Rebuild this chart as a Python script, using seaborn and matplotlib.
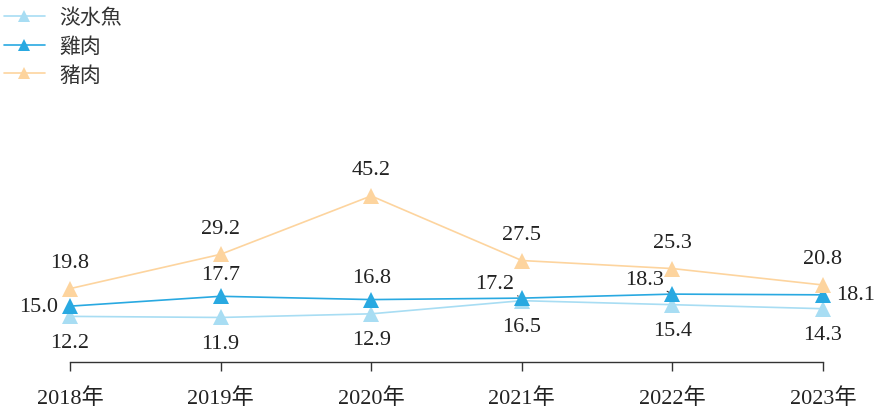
import matplotlib
matplotlib.use("Agg")
import matplotlib.pyplot as plt
from matplotlib.lines import Line2D
import seaborn as sns
import pandas as pd

years = ["2018年", "2019年", "2020年", "2021年", "2022年", "2023年"]
series_names = ["淡水魚", "雞肉", "豬肉"]
fish = [12.2, 11.9, 12.9, 16.5, 15.4, 14.3]
chicken = [15.0, 17.7, 16.8, 17.2, 18.3, 18.1]
pork = [19.8, 29.2, 45.2, 27.5, 25.3, 20.8]
colors = ["#A8DDF3", "#29A9E1", "#FDD49E"]

sns.set_style("white")
plt.rcParams["font.family"] = ["Liberation Serif", "Noto Sans CJK TC"]

rows = []
for name, vals in zip(series_names, [fish, chicken, pork]):
    for i, v in enumerate(vals):
        rows.append({"x": i, "value": v, "series": name})
df = pd.DataFrame(rows)

fig = plt.figure(figsize=(8.75, 4.1), dpi=100)
ax = fig.add_axes([70 / 875, 1 - 363 / 410, 753 / 875, 183.6 / 410])

sns.lineplot(data=df, x="x", y="value", hue="series", hue_order=series_names,
             palette=colors, marker="^", markersize=11, markeredgewidth=0,
             linewidth=1.2, ax=ax, legend=False)
for ln in ax.get_lines():
    ln.set_clip_on(False)

ax.set_xlim(0, 5)
ax.set_ylim(-0.3, 50)
ax.set_xlabel("")
ax.set_ylabel("")
ax.set_yticks([])
ax.set_xticks(range(len(years)))
ax.set_xticklabels(years, fontsize=16, color="#222222")
for s in ["top", "right", "left"]:
    ax.spines[s].set_visible(False)
ax.spines["bottom"].set_color("#333333")
ax.spines["bottom"].set_linewidth(1.0)
ax.tick_params(axis="x", bottom=True, direction="out", length=6.5, width=1.0,
               color="#333333", pad=12)
ax.patch.set_alpha(0)

tc = "#222222"
fs = 16
def lab(x, y, txt, dx, dy, leader=False):
    kw = dict(textcoords="offset pixels", ha="center", va="center",
              fontsize=fs, color=tc, annotation_clip=False)
    if leader:
        kw["arrowprops"] = dict(arrowstyle="-", color="#333333", lw=0.8,
                                shrinkA=9, shrinkB=3)
    ax.annotate(txt, (x, y), xytext=(dx, dy), **kw)

for i, v in enumerate(pork):
    lab(i, v, f"{v:.1f}", 0, 26)
for i, v in enumerate(fish):
    lab(i, v, f"{v:.1f}", 0, -26)
chick_off = [(-31, 0, False), (0, 22, False), (0, 22, False), (-27, 15, True), (-28, 15, True), (33, 0, False)]
for i, v in enumerate(chicken):
    dx, dy, ld = chick_off[i]
    lab(i, v, f"{v:.1f}", dx, dy, ld)

handles = [Line2D([0], [0], color=c, lw=1.2, marker="^", markersize=8, markeredgewidth=0)
           for c in colors]
leg = fig.legend(handles, series_names, loc="upper left", bbox_to_anchor=(0.0, 0.992),
                 frameon=False, prop={"family": ["Noto Sans CJK TC"], "size": 15},
                 handlelength=1.95, handletextpad=0.7, labelspacing=0.32,
                 borderaxespad=0.0, borderpad=0.2)
for t in leg.get_texts():
    t.set_color("#333333")

fig.savefig("out.png", dpi=100)
